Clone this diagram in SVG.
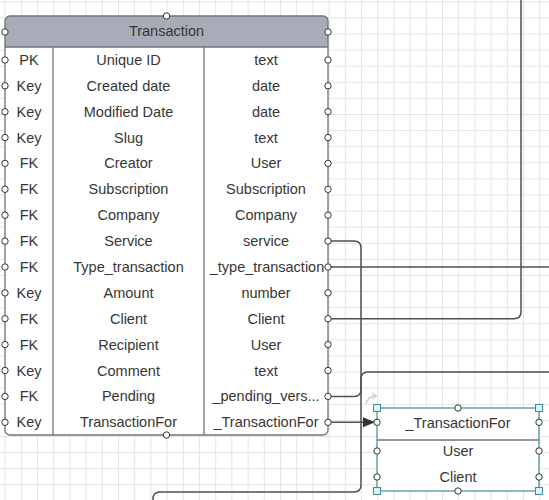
<svg xmlns="http://www.w3.org/2000/svg" width="549" height="500" viewBox="0 0 549 500">
<style>
.t{font-family:"Liberation Sans",Arial,sans-serif;font-size:14.5px;fill:#363636;text-anchor:middle}
.pt{fill:#fff;stroke:#333;stroke-width:1}
.bd{fill:none;stroke:#747474;stroke-width:1.3}
.cn{fill:none;stroke:#4f4f4f;stroke-width:1.5}
.hd{fill:#e4f1f4;stroke:#3f8c9b;stroke-width:1}
</style>
<defs>
<pattern id="grid" patternUnits="userSpaceOnUse" x="4.6" y="1.3" width="16.2" height="16.1">
<path d="M0.5,0 V16.1 M0,0.5 H16.2" stroke="#e4e4e4" stroke-width="1" fill="none"/>
</pattern>
<marker id="arr" markerWidth="14" markerHeight="12" refX="12" refY="5" orient="auto" markerUnits="userSpaceOnUse">
<path d="M0,0 L12,5 L0,10 Z" fill="#333"/>
</marker>
</defs>
<rect width="549" height="500" fill="#fff"/>
<rect width="549" height="500" fill="url(#grid)"/>

<g id="connectors">
<path class="cn" d="M328,241.1 H354 Q361,241.1 361,248 V485 Q361,492 354,492 H160 Q153,492 153,499 V505"/>
<path class="cn" d="M328,267 H549"/>
<path class="cn" d="M328,318.7 H514 Q521,318.7 521,311.7 V0"/>
<path class="cn" d="M328,396.4 H354 Q361,396.4 361,389.4 V379 Q361,372 368,372 H549"/>
<path class="cn" d="M328,422.3 H375" marker-end="url(#arr)"/>
</g>

<g id="transaction">
<path d="M5,47 V21 Q5,16 10,16 H323 Q328,16 328,21 V47 Z" fill="#a8acb8"/>
<rect x="5" y="47" width="323" height="388" fill="#fff"/>
<rect class="bd" x="5" y="16" width="323" height="419" rx="5"/>
<path class="bd" d="M5,47 H328 M53,47 V435 M204,47 V435"/>
<text class="t" x="166.5" y="36">Transaction</text>
<g>
<text class="t" x="29" y="65">PK</text><text class="t" x="128.5" y="65">Unique ID</text><text class="t" x="266" y="65">text</text>
<text class="t" x="29" y="91">Key</text><text class="t" x="128.5" y="91">Created date</text><text class="t" x="266" y="91">date</text>
<text class="t" x="29" y="117">Key</text><text class="t" x="128.5" y="117">Modified Date</text><text class="t" x="266" y="117">date</text>
<text class="t" x="29" y="142.6">Key</text><text class="t" x="128.5" y="142.6">Slug</text><text class="t" x="266" y="142.6">text</text>
<text class="t" x="29" y="168.4">FK</text><text class="t" x="128.5" y="168.4">Creator</text><text class="t" x="266" y="168.4">User</text>
<text class="t" x="29" y="194.3">FK</text><text class="t" x="128.5" y="194.3">Subscription</text><text class="t" x="266" y="194.3">Subscription</text>
<text class="t" x="29" y="220.2">FK</text><text class="t" x="128.5" y="220.2">Company</text><text class="t" x="266" y="220.2">Company</text>
<text class="t" x="29" y="246.1">FK</text><text class="t" x="128.5" y="246.1">Service</text><text class="t" x="266" y="246.1">service</text>
<text class="t" x="29" y="272">FK</text><text class="t" x="128.5" y="272">Type_transaction</text><text class="t" x="267" y="272">_type_transaction</text>
<text class="t" x="29" y="297.9">Key</text><text class="t" x="128.5" y="297.9">Amount</text><text class="t" x="266" y="297.9">number</text>
<text class="t" x="29" y="323.7">FK</text><text class="t" x="128.5" y="323.7">Client</text><text class="t" x="266" y="323.7">Client</text>
<text class="t" x="29" y="349.6">FK</text><text class="t" x="128.5" y="349.6">Recipient</text><text class="t" x="266" y="349.6">User</text>
<text class="t" x="29" y="375.5">Key</text><text class="t" x="128.5" y="375.5">Comment</text><text class="t" x="266" y="375.5">text</text>
<text class="t" x="29" y="401.4">FK</text><text class="t" x="128.5" y="401.4">Pending</text><text class="t" x="266" y="401.4">_pending_vers...</text>
<text class="t" x="29" y="427.3">Key</text><text class="t" x="128.5" y="427.3">TransactionFor</text><text class="t" x="266" y="427.3">_TransactionFor</text>
</g>
<g>
<circle class="pt" cx="166.5" cy="16" r="3.2"/><circle class="pt" cx="166.5" cy="435" r="3.2"/>
<circle class="pt" cx="5" cy="32" r="3.2"/><circle class="pt" cx="328" cy="32" r="3.2"/>
<circle class="pt" cx="5" cy="60" r="3.2"/><circle class="pt" cx="328" cy="60" r="3.2"/>
<circle class="pt" cx="5" cy="85.8" r="3.2"/><circle class="pt" cx="328" cy="85.8" r="3.2"/>
<circle class="pt" cx="5" cy="111.7" r="3.2"/><circle class="pt" cx="328" cy="111.7" r="3.2"/>
<circle class="pt" cx="5" cy="137.6" r="3.2"/><circle class="pt" cx="328" cy="137.6" r="3.2"/>
<circle class="pt" cx="5" cy="163.4" r="3.2"/><circle class="pt" cx="328" cy="163.4" r="3.2"/>
<circle class="pt" cx="5" cy="189.3" r="3.2"/><circle class="pt" cx="328" cy="189.3" r="3.2"/>
<circle class="pt" cx="5" cy="215.2" r="3.2"/><circle class="pt" cx="328" cy="215.2" r="3.2"/>
<circle class="pt" cx="5" cy="241.1" r="3.2"/><circle class="pt" cx="328" cy="241.1" r="3.2"/>
<circle class="pt" cx="5" cy="267" r="3.2"/><circle class="pt" cx="328" cy="267" r="3.2"/>
<circle class="pt" cx="5" cy="292.9" r="3.2"/><circle class="pt" cx="328" cy="292.9" r="3.2"/>
<circle class="pt" cx="5" cy="318.7" r="3.2"/><circle class="pt" cx="328" cy="318.7" r="3.2"/>
<circle class="pt" cx="5" cy="344.6" r="3.2"/><circle class="pt" cx="328" cy="344.6" r="3.2"/>
<circle class="pt" cx="5" cy="370.5" r="3.2"/><circle class="pt" cx="328" cy="370.5" r="3.2"/>
<circle class="pt" cx="5" cy="396.4" r="3.2"/><circle class="pt" cx="328" cy="396.4" r="3.2"/>
<circle class="pt" cx="5" cy="422.3" r="3.2"/><circle class="pt" cx="328" cy="422.3" r="3.2"/>
</g>
</g>

<g id="transactionfor">
<path d="M366,404 A9,9 0 0 1 375,396" fill="none" stroke="#c8cfd3" stroke-width="1.3"/>
<path d="M372,393 L376.5,396 L372,399" fill="none" stroke="#c8cfd3" stroke-width="1.3"/>
<rect x="377" y="408" width="162" height="83" fill="#fff"/>
<path d="M377,440 H539" stroke="#747474" stroke-width="1.3"/>
<rect x="377" y="408" width="162" height="83" fill="none" stroke="#3f8c9b" stroke-width="1.2"/>
<text class="t" x="458" y="427.5">_TransactionFor</text>
<text class="t" x="458" y="456">User</text>
<text class="t" x="458" y="482">Client</text>
<circle class="pt" cx="458" cy="408" r="3.2"/><circle class="pt" cx="458" cy="491" r="3.2"/>
<circle class="pt" cx="377" cy="422.3" r="3.2"/><circle class="pt" cx="539" cy="422.3" r="3.2"/>
<circle class="pt" cx="377" cy="451" r="3.2"/><circle class="pt" cx="539" cy="451" r="3.2"/>
<circle class="pt" cx="377" cy="477" r="3.2"/><circle class="pt" cx="539" cy="477" r="3.2"/>
<rect class="hd" x="373.5" y="404.5" width="7" height="7"/><rect class="hd" x="535.5" y="404.5" width="7" height="7"/>
<rect class="hd" x="373.5" y="487.5" width="7" height="7"/><rect class="hd" x="535.5" y="487.5" width="7" height="7"/>
</g>
</svg>
